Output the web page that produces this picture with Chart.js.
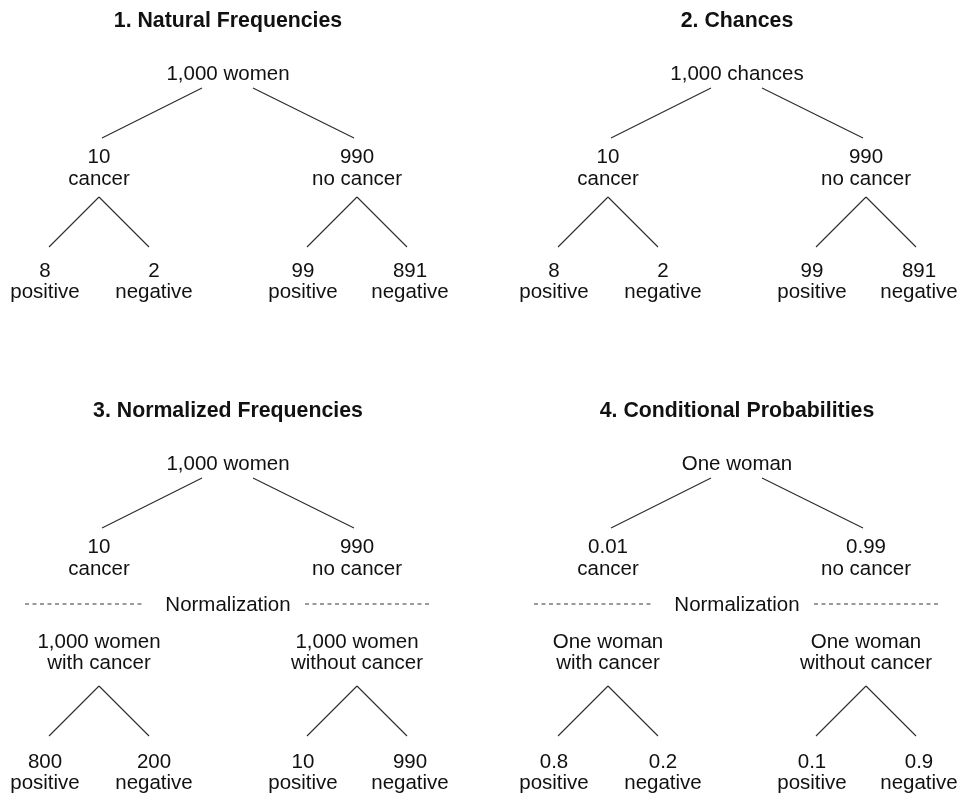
<!DOCTYPE html>
<html>
<head>
<meta charset="utf-8">
<script src="https://cdn.jsdelivr.net/npm/chart.js@4"></script>
<style>
  html, body { margin: 0; padding: 0; background: #fff; }
  canvas { display: block; }
</style>
</head>
<body>
<canvas id="treeChart" width="959" height="793"></canvas>
<script>
// four probability trees
const panelTitles = ['1. Natural Frequencies', '2. Chances', '3. Normalized Frequencies', '4. Conditional Probabilities'];
const rootLabels = ['1,000 women', '1,000 chances', '1,000 women', 'One woman'];
const splitValues = [['10', '990'], ['10', '990'], ['10', '990'], ['0.01', '0.99']];
const splitLabels = ['cancer', 'no cancer'];
const normalizedLabels = [
    null,
    null,
    [['1,000 women', 'with cancer'], ['1,000 women', 'without cancer']],
    [['One woman', 'with cancer'], ['One woman', 'without cancer']]
];
const normalizationText = 'Normalization';
const leafValues = [
    ['8', '2', '99', '891'],
    ['8', '2', '99', '891'],
    ['800', '200', '10', '990'],
    ['0.8', '0.2', '0.1', '0.9']
];
const leafLabels = ['positive', 'negative', 'positive', 'negative'];

// layout (pixels inside a panel)
const panelX = [0, 509, 0, 509];
const panelY = [0, 0, 390, 390];
const rootX = 228;
const branchX = [99, 357];
const leafX = [45, 154, 303, 410];

const FONT = '"Liberation Sans", Arial, Helvetica, sans-serif';
const LINE = '#2b2b2b';
const TEXT = '#111';

const datasets = [];
const texts = [];

function edge(x1, y1, x2, y2, dashed) {
    datasets.push({
        type: 'line',
        data: [{ x: x1, y: y1 }, { x: x2, y: y2 }],
        borderColor: dashed ? '#7a7a7a' : LINE,
        borderWidth: dashed ? 1.6 : 1.1,
        borderDash: dashed ? [4, 3.5] : [],
        pointRadius: 0,
        fill: false,
        clip: false
    });
}

function label(str, x, y, bold) {
    texts.push({ str, x, y, bold: !!bold });
}

panelTitles.forEach((title, p) => {
    const ox = panelX[p], oy = panelY[p];
    const norm = normalizedLabels[p];

    label(title, ox + rootX, oy + 27, true);
    label(rootLabels[p], ox + rootX, oy + 80);

    // root -> first split
    edge(ox + rootX - 26, oy + 88, ox + branchX[0] + 3, oy + 138);
    edge(ox + rootX + 25, oy + 88, ox + branchX[1] - 3, oy + 138);

    splitValues[p].forEach((v, i) => {
        label(v, ox + branchX[i], oy + 163);
        label(splitLabels[i], ox + branchX[i], oy + 185);
    });

    let top = 197;
    let leafBase = 277;
    if (norm) {
        label(normalizationText, ox + rootX, oy + 221);
        edge(ox + 25, oy + 214, ox + 143, oy + 214, true);
        edge(ox + 305, oy + 214, ox + 431, oy + 214, true);
        norm.forEach((lines, i) => {
            label(lines[0], ox + branchX[i], oy + 258);
            label(lines[1], ox + branchX[i], oy + 279);
        });
        top = 296;
        leafBase = 378;
    }

    // second split -> leaves
    branchX.forEach(bx => {
        edge(ox + bx, oy + top, ox + bx - 50, oy + top + 50);
        edge(ox + bx, oy + top, ox + bx + 50, oy + top + 50);
    });

    leafValues[p].forEach((v, i) => {
        label(v, ox + leafX[i], oy + leafBase);
        label(leafLabels[i], ox + leafX[i], oy + leafBase + 21);
    });
});

const textPlugin = {
    id: 'treeText',
    afterDatasetsDraw(chart) {
        const { ctx, scales: { x, y } } = chart;
        ctx.save();
        ctx.fillStyle = TEXT;
        ctx.textAlign = 'center';
        ctx.textBaseline = 'alphabetic';
        texts.forEach(t => {
            ctx.font = (t.bold ? 'bold 21.3px ' : '20.5px ') + FONT;
            ctx.fillText(t.str, x.getPixelForValue(t.x), y.getPixelForValue(t.y));
        });
        ctx.restore();
    }
};

new Chart(document.getElementById('treeChart'), {
    type: 'scatter',
    data: { datasets },
    options: {
        responsive: false,
        animation: false,
        layout: { padding: 0 },
        plugins: {
            legend: { display: false },
            tooltip: { enabled: false }
        },
        scales: {
            x: { type: 'linear', min: 0, max: 959, display: false },
            y: { type: 'linear', min: 0, max: 793, reverse: true, display: false }
        }
    },
    plugins: [textPlugin]
});
</script>
</body>
</html>
